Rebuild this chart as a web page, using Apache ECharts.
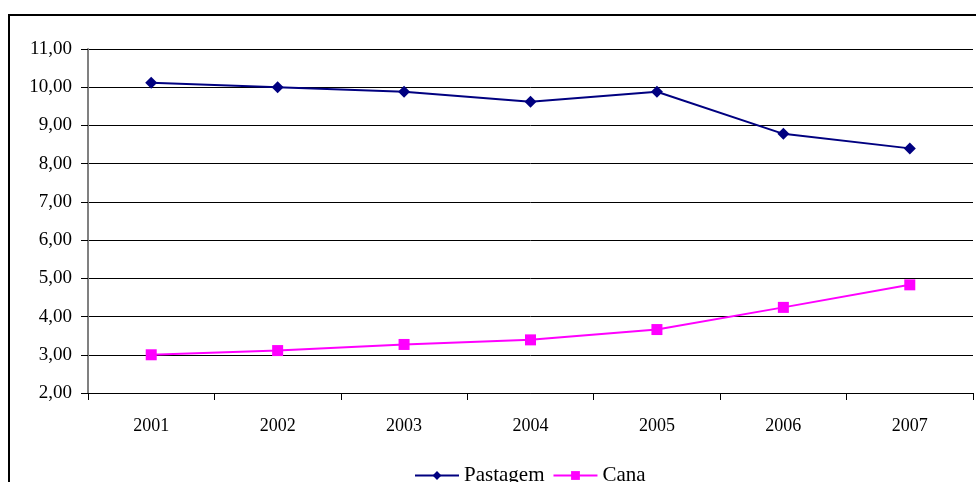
<!DOCTYPE html>
<html>
<head>
<meta charset="utf-8">
<script src="https://cdn.jsdelivr.net/npm/echarts@6/dist/echarts.min.js"></script>
<style>
  html, body { margin: 0; padding: 0; background: #fff; }
  #chart { width: 976px; height: 482px; }
</style>
</head>
<body>
<div id="chart"></div>
<script>
// dados
var anos = ["2001", "2002", "2003", "2004", "2005", "2006", "2007"];
var pastagem = [10.12, 10.00, 9.88, 9.62, 9.88, 8.78, 8.40];
var cana = [3.00, 3.11, 3.27, 3.39, 3.66, 4.24, 4.83];

var chart = echarts.init(document.getElementById("chart"));
var fonte = "Liberation Serif, Times New Roman, serif";

var option = {
  animation: false,
  backgroundColor: "#fff",
  graphic: [
    {
      type: "rect",
      shape: { x: 9, y: 15, width: 1000, height: 1000 },
      style: { fill: "none", stroke: "#000", lineWidth: 2 },
      z: 100
    }
  ],
  grid: { left: 88, right: 3, top: 49, bottom: 89 },
  legend: {
    top: 460,
    left: 409,
    itemWidth: 44,
    itemHeight: 11,
    itemGap: 8,
    textStyle: { fontFamily: fonte, fontSize: 21, color: "#000" },
    data: ["Pastagem", "Cana"]
  },
  xAxis: {
    type: "category",
    data: anos,
    boundaryGap: true,
    axisLine: { lineStyle: { color: "#000", width: 1 } },
    axisTick: { show: true, length: 7, lineStyle: { color: "#000" } },
    axisLabel: { fontFamily: fonte, fontSize: 18, color: "#000", margin: 24 }
  },
  yAxis: {
    type: "value",
    min: 2,
    max: 11,
    interval: 1,
    axisLine: { show: true, lineStyle: { color: "#808080", width: 2 } },
    axisTick: { show: true, length: 7, lineStyle: { color: "#000" } },
    axisLabel: {
      fontFamily: fonte, fontSize: 19, color: "#000", margin: 16,
      formatter: function (v) { return v.toFixed(2).replace(".", ","); }
    },
    splitLine: { lineStyle: { color: "#000", width: 1 } }
  },
  series: [
    {
      name: "Pastagem",
      type: "line",
      data: pastagem,
      symbol: "diamond",
      symbolSize: 12,
      lineStyle: { color: "#000080", width: 2 },
      itemStyle: { color: "#000080" }
    },
    {
      name: "Cana",
      type: "line",
      data: cana,
      symbol: "rect",
      symbolSize: 11,
      lineStyle: { color: "#ff00ff", width: 2 },
      itemStyle: { color: "#ff00ff" }
    }
  ]
};

chart.setOption(option);
</script>
</body>
</html>
